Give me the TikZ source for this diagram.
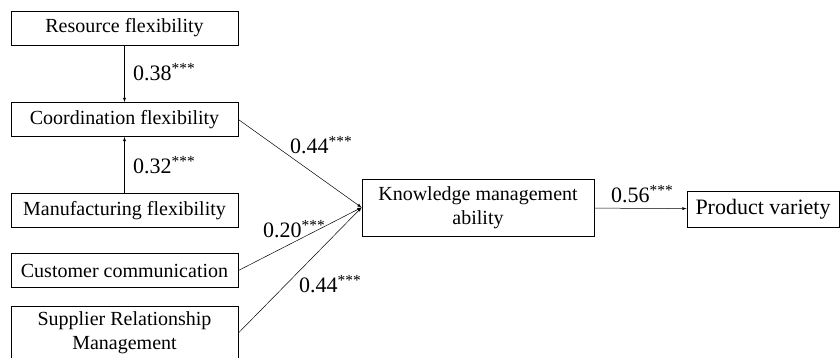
\documentclass[tikz,border=0pt]{standalone}
\usepackage{fontspec}
\setmainfont{Liberation Serif}
\usetikzlibrary{arrows,positioning}
\tikzstyle{factor}=[draw,rectangle,line width=0.8pt,minimum width=227pt,minimum height=34pt,inner sep=2pt,align=center,font=\fontsize{20}{24}\selectfont]
\tikzstyle{effect}=[-latex,line width=0.5pt]
\tikzstyle{coef}=[inner sep=0pt,font=\fontsize{22}{24}\selectfont]

\begin{document}
\begin{tikzpicture}[x=1pt,y=-1pt]
\useasboundingbox (0,0) rectangle (840,358);
\node [factor] (res) at (124.5,28) {Resource flexibility};
\node [factor] (coord) at (124.5,119.5) {Coordination flexibility};
\node [factor] (manu) at (124.5,210.5) {Manufacturing flexibility};
\node [factor] (cust) at (124.5,270.5) {Customer communication};
\node [factor,minimum height=54pt] (supp) at (124.5,333) {Supplier Relationship\\Management};
\node [factor,minimum width=232pt,minimum height=57pt] (know) at (478,207.5) {Knowledge management\\ability};
\node [factor,minimum width=152pt,minimum height=36pt,font=\fontsize{22}{24}\selectfont] (prod) at (763,209) {Product variety};

\draw [effect] (res) -- (coord);
\draw [effect] (manu) -- (coord);
\draw [effect] (coord.east) -- (know.west);
\draw [effect] (cust.east) -- (know.west);
\draw [effect] (supp.east) -- (know.west);
\draw [effect] (know) -- (prod);

\node [coef,anchor=west] (c1) at (133,72) {0.38\textsuperscript{***}};
\node [coef,anchor=west] (c2) at (133,165) {0.32\textsuperscript{***}};
\node [coef,anchor=west] (c3) at (290,145) {0.44\textsuperscript{***}};
\node [coef,anchor=west] (c4) at (263,229) {0.20\textsuperscript{***}};
\node [coef,anchor=west] (c5) at (299,284) {0.44\textsuperscript{***}};
\node [coef,anchor=west] (c6) at (611,194) {0.56\textsuperscript{***}};
\end{tikzpicture}
\end{document}
